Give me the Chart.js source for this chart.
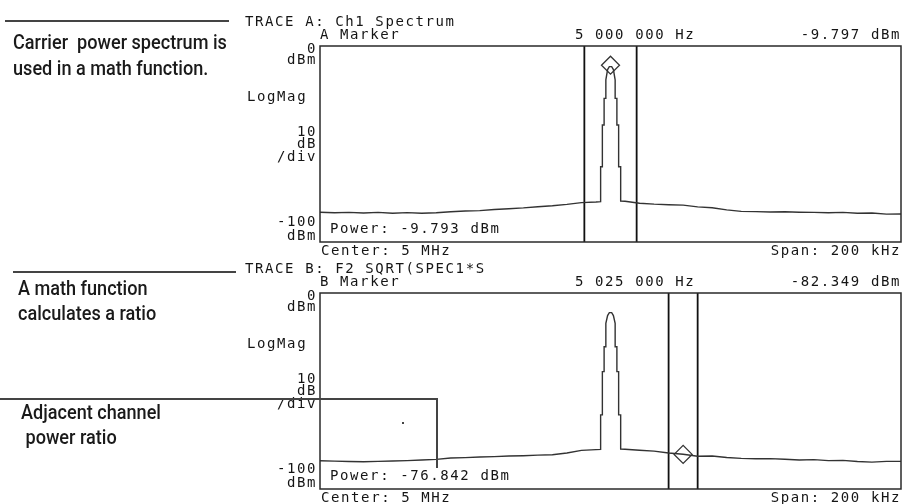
<!DOCTYPE html>
<html>
<head>
<meta charset="utf-8">
<script src="https://cdn.jsdelivr.net/npm/chart.js@4.4.1/dist/chart.umd.min.js"></script>
<style>
  html, body { margin: 0; padding: 0; background: #fff; }
  #page { position: relative; width: 902px; height: 504px; overflow: hidden; }
  #page canvas { position: absolute; left: 0; top: 0; }
  .note {
    position: absolute;
    font-family: Roboto, "Liberation Sans", sans-serif;
    font-size: 20px; font-weight: 500; line-height: 26px;
    color: #1a1a1a; white-space: pre;
    transform: scaleX(0.905); transform-origin: 0 0;
  }
  .rule { position: absolute; background: #444; }
</style>
</head>
<body>
<div id="page">
  <canvas id="traceA" width="902" height="504"></canvas>
  <canvas id="traceB" width="902" height="504"></canvas>

  <div class="rule" style="left:5px; top:20px; width:224px; height:1.5px"></div>
  <div class="note" style="left:13px; top:29px">Carrier  power spectrum is<br>used in a math function.</div>

  <div class="rule" style="left:13px; top:271px; width:223px; height:1.5px"></div>
  <div class="note" style="left:18px; top:276px; line-height:25px">A math function<br>calculates a ratio</div>

  <div class="rule" style="left:0; top:398px; width:437px; height:1.5px"></div>
  <div class="rule" style="left:436px; top:398px; width:1.5px; height:70px"></div>
  <div class="rule" style="left:402px; top:422px; width:1.5px; height:1.5px"></div>
  <div class="note" style="left:21px; top:400px; line-height:25px">Adjacent channel<br> power ratio</div>
</div>

<script>
// Span settings
const CENTER_MHZ = 5;
const SPAN_KHZ = 200;

// Trace points, frequency as offset from the centre (kHz)
const freqKHz = [
  -100, -95, -90, -85, -80, -75, -70, -65, -60, -55, -50, -45, -40, -35, -30, -25, -20, -15, -10, -5,
  -3.4, -3.4, -2.8, -2.8, -2.2, -2.2, -1.6, -1.6, -1.0, -0.4, 0.4, 1.0, 1.6, 1.6, 2.2, 2.2, 2.8, 2.8, 3.5, 3.5,
  5, 10, 15, 20, 25, 30, 35, 40, 45, 50, 55, 60, 65, 70, 75, 80, 85, 90, 95, 100
];

// Trace A: Ch1 Spectrum (dBm)
const levelA = [
  -84.8, -85.1, -84.9, -85.2, -84.9, -85.3, -85.0, -85.3, -85.1, -84.6, -84.2, -84.0, -83.4, -83.0, -82.6, -82.0, -81.5, -80.8, -79.9, -79.6,
  -79.4, -61.6, -61.6, -40.3, -40.3, -26.7, -26.7, -17.3, -12.0, -10.5, -10.5, -12.0, -17.3, -26.7, -26.7, -40.3, -40.3, -61.6, -61.6, -79.1,
  -79.2, -80.2, -80.7, -81.0, -81.2, -82.1, -82.5, -83.6, -84.4, -84.5, -84.7, -84.6, -84.8, -84.9, -85.1, -84.9, -85.3, -85.2, -85.8, -85.7
];

// Trace B: F2 SQRT(SPEC1*S (dBm)
const levelB = [
  -85.6, -85.8, -86.0, -86.1, -85.9, -85.7, -85.5, -85.2, -84.9, -84.2, -84.0, -83.7, -83.5, -83.2, -83.0, -82.7, -82.5, -81.6, -80.3, -79.9,
  -79.8, -62.2, -62.2, -40.1, -40.1, -27.4, -27.4, -15.5, -11.5, -10.0, -10.0, -11.5, -15.5, -27.4, -27.4, -40.1, -40.1, -62.2, -62.2, -79.6,
  -79.7, -80.2, -80.7, -81.6, -82.3, -83.3, -83.2, -83.9, -84.4, -84.6, -84.5, -84.8, -85.2, -85.0, -85.5, -85.4, -86.0, -86.3, -85.9, -85.9
];

// Band markers (kHz offsets), marker readouts, band power
const bandA = [-9, 9];
const bandB = [20, 30];
const markerFreq = [0, 25];
const markerLevel = [-9.797, -82.349];
const bandPower = [-9.793, -76.842];
const traceTitles = ['TRACE A: Ch1 Spectrum', 'TRACE B: F2 SQRT(SPEC1*S'];
const markerNames = ['A Marker', 'B Marker'];

function fmtHz(khz) {
  var hz = Math.round((CENTER_MHZ * 1000 + khz) * 1000);
  return hz.toString().replace(/\B(?=(\d{3})+(?!\d))/g, ' ') + ' Hz';
}

function toPoints(xs, ys) {
  return xs.map(function (x, i) { return { x: x, y: ys[i] }; });
}

// Draws the frame and the analyzer annotations round the plot area
const instrumentText = {
  id: 'instrumentText',
  afterDraw(chart, args, o) {
    const ctx = chart.ctx;
    const a = chart.chartArea;
    ctx.save();
    ctx.strokeStyle = '#2a2a2a';
    ctx.lineWidth = 1.5;
    ctx.strokeRect(a.left, a.top, a.right - a.left, a.bottom - a.top);

    ctx.font = '14px "DejaVu Sans Mono", monospace';
    ctx.letterSpacing = '1.6px';
    ctx.fillStyle = '#151515';
    ctx.textBaseline = 'middle';
    const put = (s, x, y, align) => {
      ctx.textAlign = align || 'left';
      ctx.fillText(s, x, y);
    };
    put(o.title, 245, a.top - 24);
    put(o.marker, a.left, a.top - 11);
    put(fmtHz(o.freq), 575, a.top - 11);
    put(o.level.toFixed(3) + ' dBm', 901, a.top - 11, 'right');

    put('0', 317, a.top + 3, 'right');
    put('dBm', 317, a.top + 14, 'right');
    put('LogMag', 247, a.top + 51);
    put('10', 317, a.top + 86, 'right');
    put('dB', 317, a.top + 98, 'right');
    put('/div', 317, a.top + 111, 'right');
    put('-100', 317, a.bottom - 20, 'right');
    put('dBm', 317, a.bottom - 6, 'right');

    put('Power: ' + o.power.toFixed(3) + ' dBm', a.left + 10, a.bottom - 13);
    put('Center: ' + CENTER_MHZ + ' MHz', a.left + 1, a.bottom + 9);
    put('Span: ' + SPAN_KHZ + ' kHz', 901, a.bottom + 9, 'right');
    ctx.restore();
  }
};

function makePanel(id, levels, band, i, padding) {
  const lineDs = (data, color, width) => ({
    data: data,
    showLine: true,
    borderColor: color,
    borderWidth: width,
    pointRadius: 0,
    tension: 0,
    fill: false
  });
  return new Chart(document.getElementById(id).getContext('2d'), {
    type: 'scatter',
    data: {
      datasets: [
        lineDs(toPoints(freqKHz, levels), '#333', 1.4),
        lineDs([{ x: band[0], y: 0 }, { x: band[0], y: -100 }], '#111', 1.8),
        lineDs([{ x: band[1], y: 0 }, { x: band[1], y: -100 }], '#111', 1.8),
        {
          data: [{ x: markerFreq[i], y: markerLevel[i] }],
          pointStyle: 'rectRot',
          pointRadius: 9,
          borderColor: '#333',
          borderWidth: 1.3,
          backgroundColor: 'rgba(0,0,0,0)',
          clip: false
        }
      ]
    },
    options: {
      responsive: false,
      animation: false,
      events: [],
      // marker radius would otherwise add 10px of padding on the right
      layout: { padding: padding, autoPadding: false },
      scales: {
        x: { type: 'linear', min: -SPAN_KHZ / 2, max: SPAN_KHZ / 2, display: false },
        y: { min: -100, max: 0, display: false }
      },
      plugins: {
        legend: { display: false },
        tooltip: { enabled: false },
        instrumentText: {
          title: traceTitles[i],
          marker: markerNames[i],
          freq: markerFreq[i],
          level: markerLevel[i],
          power: bandPower[i]
        }
      }
    },
    plugins: [instrumentText]
  });
}

var chartA = makePanel('traceA', levelA, bandA, 0, { left: 320, top: 46, right: 1, bottom: 262 });
var chartB = makePanel('traceB', levelB, bandB, 1, { left: 320, top: 293, right: 1, bottom: 15 });
</script>
</body>
</html>
